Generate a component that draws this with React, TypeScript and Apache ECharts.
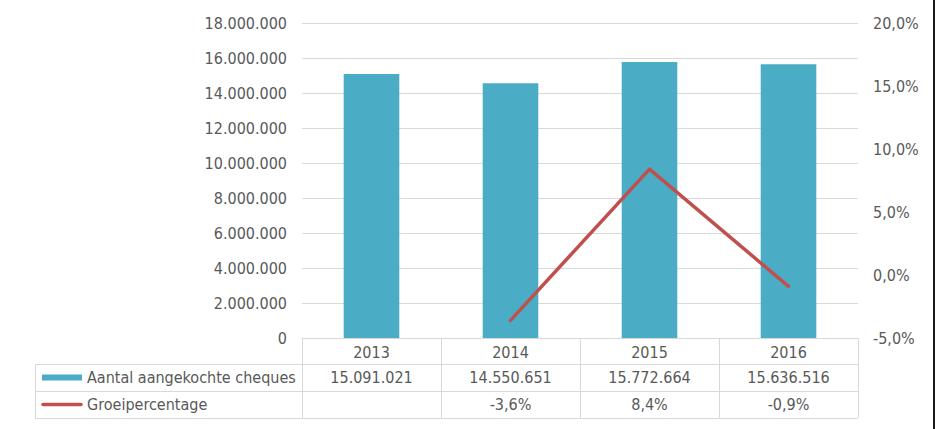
import React, { useEffect, useRef } from "react";
import * as echarts from "echarts";

const years = ["2013", "2014", "2015", "2016"];
const cheques = [15091021, 14550651, 15772664, 15636516];
const growth: (number | null)[] = [null, -3.6, 8.4, -0.9];
const seriesNames = ["Aantal aangekochte cheques", "Groeipercentage"];

const BAR = "#4BACC6";
const LINE = "#C0504D";
const TXT = "#595959";
const GRID = "#D9D9D9";
const FONT = "'DejaVu Sans Condensed', 'DejaVu Sans', sans-serif";
const FS = 16;

function fmtInt(v: number): string {
  const s = Math.round(v).toString();
  return s.replace(/\B(?=(\d{3})+(?!\d))/g, ".");
}
function fmtPct(v: number): string {
  return v.toFixed(1).replace(".", ",") + "%";
}

export default function App() {
  const ref = useRef<HTMLDivElement>(null);
  useEffect(() => {
    if (!ref.current) return;
    const chart = echarts.init(ref.current, undefined, { renderer: "svg" });
    const gridLeft = 302;
    const gridRight = 79;
    const gridTop = 23;
    const gridBottom = 91;
    chart.setOption({
      animation: false,
      grid: { left: gridLeft, right: gridRight, top: gridTop, bottom: gridBottom },
      xAxis: {
        type: "category",
        data: years,
        axisLine: { lineStyle: { color: GRID, width: 1 } },
        axisTick: { show: false },
        axisLabel: { show: false },
      },
      yAxis: [
        {
          type: "value",
          min: 0,
          max: 18000000,
          interval: 2000000,
          axisLine: { show: false },
          axisTick: { show: false },
          splitLine: { lineStyle: { color: GRID, width: 1 } },
          axisLabel: {
            color: TXT,
            fontFamily: FONT,
            fontSize: FS,
            margin: 15,
            formatter: (v: number) => fmtInt(v),
          },
        },
        {
          type: "value",
          min: -5,
          max: 20,
          interval: 5,
          position: "right",
          axisLine: { show: false },
          axisTick: { show: false },
          splitLine: { show: false },
          axisLabel: {
            color: TXT,
            fontFamily: FONT,
            fontSize: FS,
            margin: 15,
            formatter: (v: number) => fmtPct(v),
          },
        },
      ],
      series: [
        {
          name: seriesNames[0],
          type: "bar",
          data: cheques,
          barWidth: "40%",
          itemStyle: { color: BAR },
          yAxisIndex: 0,
        },
        {
          name: seriesNames[1],
          type: "line",
          data: growth,
          yAxisIndex: 1,
          showSymbol: false,
          symbol: "none",
          lineStyle: { color: LINE, width: 3.5, cap: "round", join: "round" },
          itemStyle: { color: LINE },
        },
      ],
    });

    // Build data table under the plot
    const W = 937;
    const H = 429;
    const axisY = H - gridBottom; // 338
    const row1 = axisY + 26; // 364
    const row2 = row1 + 27; // 391
    const row3 = row2 + 27; // 418
    const tableLeft = 35;
    const plotRight = W - gridRight;
    const centers = years.map((_, i) => chart.convertToPixel({ xAxisIndex: 0 }, i) as number);
    const band = (plotRight - gridLeft) / years.length;
    const bounds = [gridLeft, ...centers.map((c) => c + band / 2)];
    const els: any[] = [];
    const ls = { stroke: GRID, lineWidth: 1 };
    [row1, row2, row3].forEach((y) => {
      els.push({ type: "line", shape: { x1: tableLeft, y1: y + 0.5, x2: plotRight, y2: y + 0.5 }, style: ls, silent: true });
    });
    els.push({ type: "line", shape: { x1: tableLeft + 0.5, y1: row1, x2: tableLeft + 0.5, y2: row3 }, style: ls, silent: true });
    bounds.forEach((x) => {
      const xr = Math.round(x) + 0.5;
      els.push({ type: "line", shape: { x1: xr, y1: axisY, x2: xr, y2: row3 }, style: ls, silent: true });
    });
    const textStyle = (x: number, y: number, t: string, align: string) => ({
      type: "text",
      x,
      y,
      silent: true,
      style: {
        text: t,
        fill: TXT,
        font: `${FS}px ${FONT}`,
        textAlign: align,
        textVerticalAlign: "middle",
      },
    });
    const mid1 = (axisY + row1) / 2 + 1;
    const mid2 = (row1 + row2) / 2;
    const mid3 = (row2 + row3) / 2;
    centers.forEach((c, i) => {
      els.push(textStyle(c, mid1, years[i], "center"));
      els.push(textStyle(c, mid2, fmtInt(cheques[i]), "center"));
      const g = growth[i];
      if (g !== null) els.push(textStyle(c, mid3, fmtPct(g), "center"));
    });
    // legend keys
    els.push({ type: "rect", shape: { x: 42, y: mid2 - 3, width: 40, height: 6 }, style: { fill: BAR }, silent: true });
    els.push({
      type: "line",
      shape: { x1: 43, y1: mid3, x2: 81, y2: mid3 },
      style: { stroke: LINE, lineWidth: 3.5, lineCap: "round" },
      silent: true,
    });
    els.push(textStyle(87, mid2, seriesNames[0], "left"));
    els.push(textStyle(87, mid3, seriesNames[1], "left"));
    // right frame edge
    els.push({ type: "line", shape: { x1: 934, y1: 0, x2: 934, y2: H }, style: { stroke: "#1a1a1a", lineWidth: 2 }, silent: true });

    chart.setOption({ graphic: { elements: els } });

    return () => chart.dispose();
  }, []);
  return (
    <div
      ref={ref}
      style={{ position: "fixed", left: 0, top: 0, width: 937, height: 429, background: "#fff" }}
    />
  );
}
